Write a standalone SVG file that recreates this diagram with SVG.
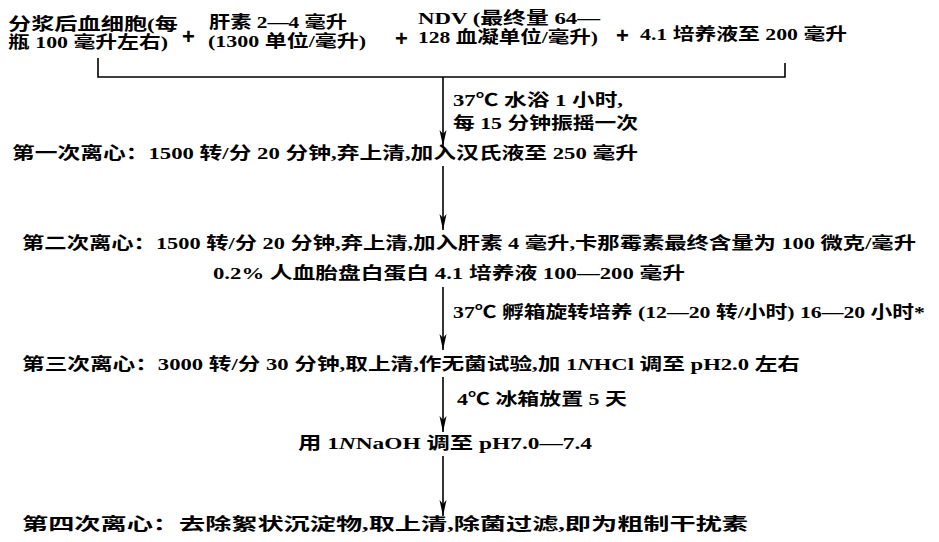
<svg xmlns="http://www.w3.org/2000/svg" width="939" height="542" viewBox="0 0 939 542">
<defs>
<marker id="ah" viewBox="0 0 16 8" refX="16" refY="4" markerWidth="16" markerHeight="8" markerUnits="userSpaceOnUse" orient="auto">
<path d="M0,0.5 L4,4 L0,7.5 L16,4 Z" fill="#000"/>
</marker>
<style>
text{font-family:"Liberation Serif","Noto Sans CJK SC",serif;font-size:17px;font-weight:bold;fill:#000}
.plus{font-family:"Liberation Sans",sans-serif;font-size:22px}
.ln{stroke:#000;stroke-width:1.6;fill:none}
</style>
</defs>
<rect width="939" height="542" fill="#fff"/>
<g id="inputs">
<text x="8" y="30" textLength="170" lengthAdjust="spacingAndGlyphs">分浆后血细胞(每</text>
<text x="8" y="48" textLength="160" lengthAdjust="spacingAndGlyphs">瓶 100 毫升左右)</text>
<text class="plus" x="182" y="44">+</text>
<text x="209" y="28" textLength="138" lengthAdjust="spacingAndGlyphs">肝素 2—4 毫升</text>
<text x="208" y="47" textLength="158" lengthAdjust="spacingAndGlyphs">(1300 单位/毫升)</text>
<text class="plus" x="395" y="46">+</text>
<text x="418" y="24" textLength="182" lengthAdjust="spacingAndGlyphs">NDV (最终量 64—</text>
<text x="418" y="43" textLength="180" lengthAdjust="spacingAndGlyphs">128 血凝单位/毫升)</text>
<text class="plus" x="616" y="43">+</text>
<text x="640" y="40" textLength="207" lengthAdjust="spacingAndGlyphs">4.1 培养液至 200 毫升</text>
</g>
<g id="step1">
<text x="12" y="159" textLength="626" lengthAdjust="spacingAndGlyphs">第一次离心：1500 转/分 20 分钟,弃上清,加入汉氏液至 250 毫升</text>
</g>
<g id="step2">
<text x="22" y="249" textLength="894" lengthAdjust="spacingAndGlyphs">第二次离心：1500 转/分 20 分钟,弃上清,加入肝素 4 毫升,卡那霉素最终含量为 100 微克/毫升</text>
<text x="213" y="279" textLength="472" lengthAdjust="spacingAndGlyphs">0.2% 人血胎盘白蛋白 4.1 培养液 100—200 毫升</text>
</g>
<g id="step3">
<text x="22" y="370" textLength="778" lengthAdjust="spacingAndGlyphs">第三次离心：3000 转/分 30 分钟,取上清,作无菌试验,加 1<tspan font-style="italic">N</tspan>HCl 调至 pH2.0 左右</text>
</g>
<g id="adjust">
<text x="298" y="449" textLength="294" lengthAdjust="spacingAndGlyphs">用 1<tspan font-style="italic">N</tspan>NaOH 调至 pH7.0—7.4</text>
</g>
<g id="step4">
<text x="22" y="530" textLength="726" lengthAdjust="spacingAndGlyphs">第四次离心：去除絮状沉淀物,取上清,除菌过滤,即为粗制干扰素</text>
</g>
<g id="connectors">
<path class="ln" d="M98,58 V77 H785 V63"/>
<line class="ln" x1="443" y1="77" x2="443" y2="146" marker-end="url(#ah)"/>
<text x="453" y="106" textLength="170" lengthAdjust="spacingAndGlyphs">37℃ 水浴 1 小时,</text>
<text x="453" y="129" textLength="185" lengthAdjust="spacingAndGlyphs">每 15 分钟振摇一次</text>
<line class="ln" x1="443" y1="166" x2="443" y2="230" marker-end="url(#ah)"/>
<line class="ln" x1="443" y1="287" x2="443" y2="350" marker-end="url(#ah)"/>
<text x="453" y="318" textLength="472" lengthAdjust="spacingAndGlyphs">37℃ 孵箱旋转培养 (12—20 转/小时) 16—20 小时*</text>
<line class="ln" x1="443" y1="377" x2="443" y2="432" marker-end="url(#ah)"/>
<text x="457" y="405" textLength="170" lengthAdjust="spacingAndGlyphs">4℃ 冰箱放置 5 天</text>
<line class="ln" x1="443" y1="456" x2="443" y2="516" marker-end="url(#ah)"/>
</g>
</svg>
